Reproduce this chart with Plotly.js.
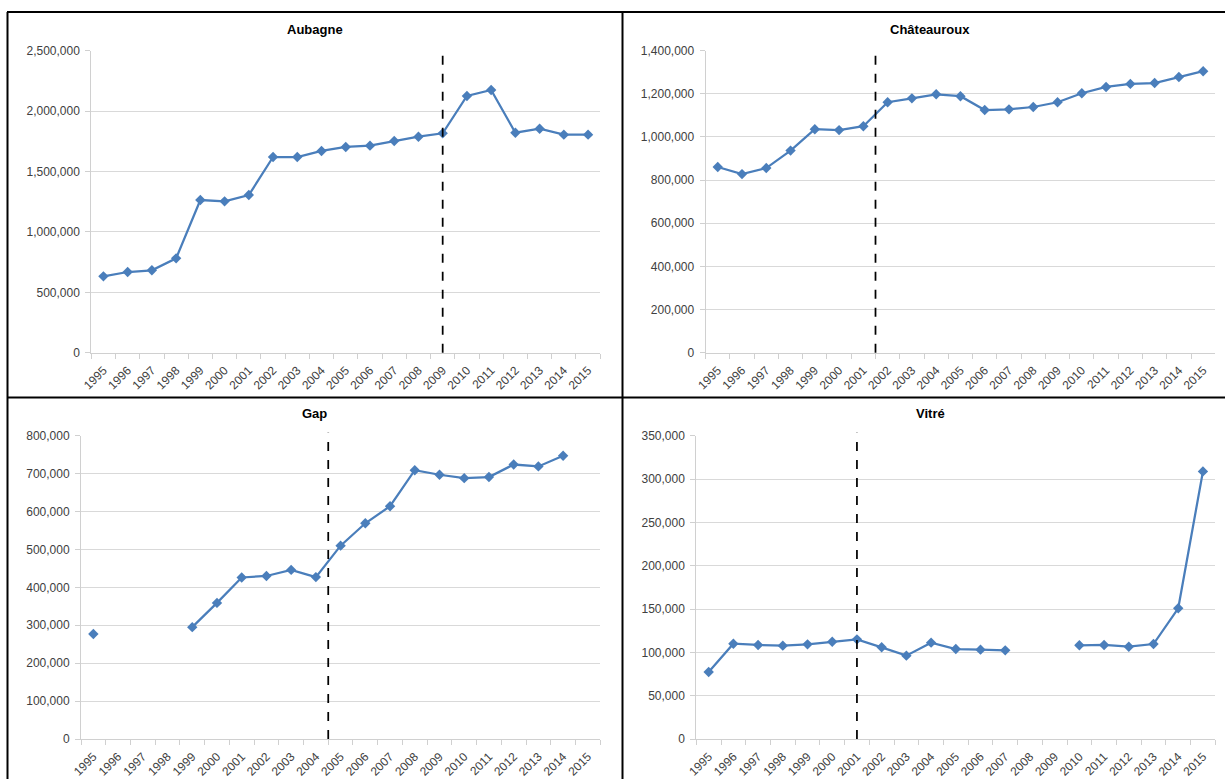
<!DOCTYPE html>
<html>
<head>
<meta charset="utf-8">
<script src="https://cdn.plot.ly/plotly-3.0.1.min.js"></script>
<style>
html,body{margin:0;padding:0;background:#fff;}
#chart{width:1225px;height:779px;}
</style>
</head>
<body>
<div id="chart"></div>
<script>
// ---- data ----
const years = ['1995','1996','1997','1998','1999','2000','2001','2002','2003','2004','2005','2006','2007','2008','2009','2010','2011','2012','2013','2014','2015'];
const aubagne = [632000, 668000, 682000, 781000, 1264000, 1253000, 1305000, 1620000, 1620000, 1670000, 1703000, 1714000, 1752000, 1788000, 1816000, 2125000, 2175000, 1821000, 1854000, 1805000, 1805000];
const chateauroux = [861000, 828000, 856000, 937000, 1036000, 1032000, 1050000, 1161000, 1179000, 1198000, 1189000, 1125000, 1128000, 1139000, 1161000, 1203000, 1232000, 1246000, 1250000, 1278000, 1305000];
const gap = [277000, null, null, null, 295000, 359000, 426000, 430000, 446000, 427000, 510000, 569000, 614000, 709000, 697000, 688000, 691000, 724000, 719000, 747000, null];
const vitre = [77300, 110000, 108500, 107700, 109200, 112300, 115000, 105800, 96200, 111200, 103800, 103100, 102300, null, null, 108100, 108500, 106500, 109600, 150800, 308800];
const titles = ['Aubagne', 'Châteauroux', 'Gap', 'Vitré'];
// year of the dashed reference line in each panel (x.5 = between two years)
const aubagneBreak = 2009;
const chateaurouxBreak = 2001.5;
const gapBreak = 2004.5;
const vitreBreak = 2001;

// ---- layout helpers ----
const W = 1225, H = 779;
const px = v => v / W;
const py = v => 1 - v / H;

const lineColor = '#4a7ebb';
const axisGray = '#d0d0d0';
const tickFont = {family: 'Liberation Sans, Arial, sans-serif', size: 12, color: '#404040'};

function trace(y, i) {
  const s = i === 1 ? '' : String(i);
  return {
    x: years, y: y, type: 'scatter', mode: 'lines+markers',
    xaxis: 'x' + s, yaxis: 'y' + s,
    line: {color: lineColor, width: 2.25},
    marker: {symbol: 'diamond', size: 8, color: lineColor},
    connectgaps: false, showlegend: false, hoverinfo: 'x+y'
  };
}

function xax(domain, anchor) {
  return {
    domain: domain, anchor: anchor, type: 'category', tickson: 'boundaries',
    categoryorder: 'array', categoryarray: years,
    range: [-0.5, years.length - 0.5],
    showline: true, linecolor: axisGray, linewidth: 1,
    ticks: 'outside', ticklen: 5, tickcolor: axisGray,
    showgrid: false, zeroline: false, tickangle: -45,
    tickfont: tickFont, ticklabelstandoff: 5, fixedrange: true
  };
}
function yax(domain, anchor, max, dtick) {
  return {
    domain: domain, anchor: anchor, range: [0, max], dtick: dtick, tick0: 0,
    showline: true, linecolor: axisGray, linewidth: 1,
    ticks: 'outside', ticklen: 5, tickcolor: axisGray,
    showgrid: true, gridcolor: '#d9d9d9', gridwidth: 1, zeroline: false,
    tickformat: ',d', tickfont: tickFont, ticklabelstandoff: 3, fixedrange: true
  };
}

const topY = [py(352.7), py(50.7)];
const botY = [py(739), py(435.7)];

const layout = {
  width: W, height: H,
  margin: {l: 0, r: 0, t: 0, b: 0},
  paper_bgcolor: '#ffffff', plot_bgcolor: '#ffffff',
  xaxis: xax([px(91.3), px(600.2)], 'y'),
  yaxis: yax(topY, 'x', 2500000, 500000),
  xaxis2: xax([px(705.6), px(1215.3)], 'y2'),
  yaxis2: yax(topY, 'x2', 1400000, 200000),
  xaxis3: xax([px(81), px(600.2)], 'y3'),
  yaxis3: yax(botY, 'x3', 800000, 100000),
  xaxis4: xax([px(696.3), px(1215.3)], 'y4'),
  yaxis4: yax(botY, 'x4', 350000, 50000),
  annotations: [
    {text: '<b>' + titles[0] + '</b>', x: px(315), y: py(29)},
    {text: '<b>' + titles[1] + '</b>', x: px(930), y: py(29)},
    {text: '<b>' + titles[2] + '</b>', x: px(315), y: py(414)},
    {text: '<b>' + titles[3] + '</b>', x: px(930), y: py(414)}
  ].map(a => Object.assign(a, {xref: 'paper', yref: 'paper', showarrow: false,
    xanchor: 'center', yanchor: 'middle',
    font: {family: 'Liberation Sans, Arial, sans-serif', size: 13, color: '#000'}})),
  shapes: []
};

// dashed reference lines, positioned through each category axis
[[aubagneBreak, ''], [chateaurouxBreak, '2'], [gapBreak, '3'], [vitreBreak, '4']].forEach(([yr, s]) => {
  const idx = yr - Number(years[0]);
  layout.shapes.push({
    type: 'line', xref: 'x' + s, yref: 'y' + s + ' domain',
    x0: idx, x1: idx, y0: 0, y1: 1.01,
    line: {color: '#000', width: 1.75, dash: 'dash'}
  });
});

// panel borders
const border = {color: '#000', width: 2};
layout.shapes.push(
  {type: 'line', xref: 'paper', yref: 'paper', x0: px(7), x1: 1, y0: py(12), y1: py(12), line: border},
  {type: 'line', xref: 'paper', yref: 'paper', x0: px(7.5), x1: px(7.5), y0: py(12), y1: 0, line: border},
  {type: 'line', xref: 'paper', yref: 'paper', x0: px(622.5), x1: px(622.5), y0: py(12), y1: 0, line: border},
  {type: 'line', xref: 'paper', yref: 'paper', x0: px(7), x1: 1, y0: py(397.5), y1: py(397.5), line: border}
);

const data = [trace(aubagne, 1), trace(chateauroux, 2), trace(gap, 3), trace(vitre, 4)];
Plotly.newPlot('chart', data, layout, {displayModeBar: false, staticPlot: true});
</script>
</body>
</html>
